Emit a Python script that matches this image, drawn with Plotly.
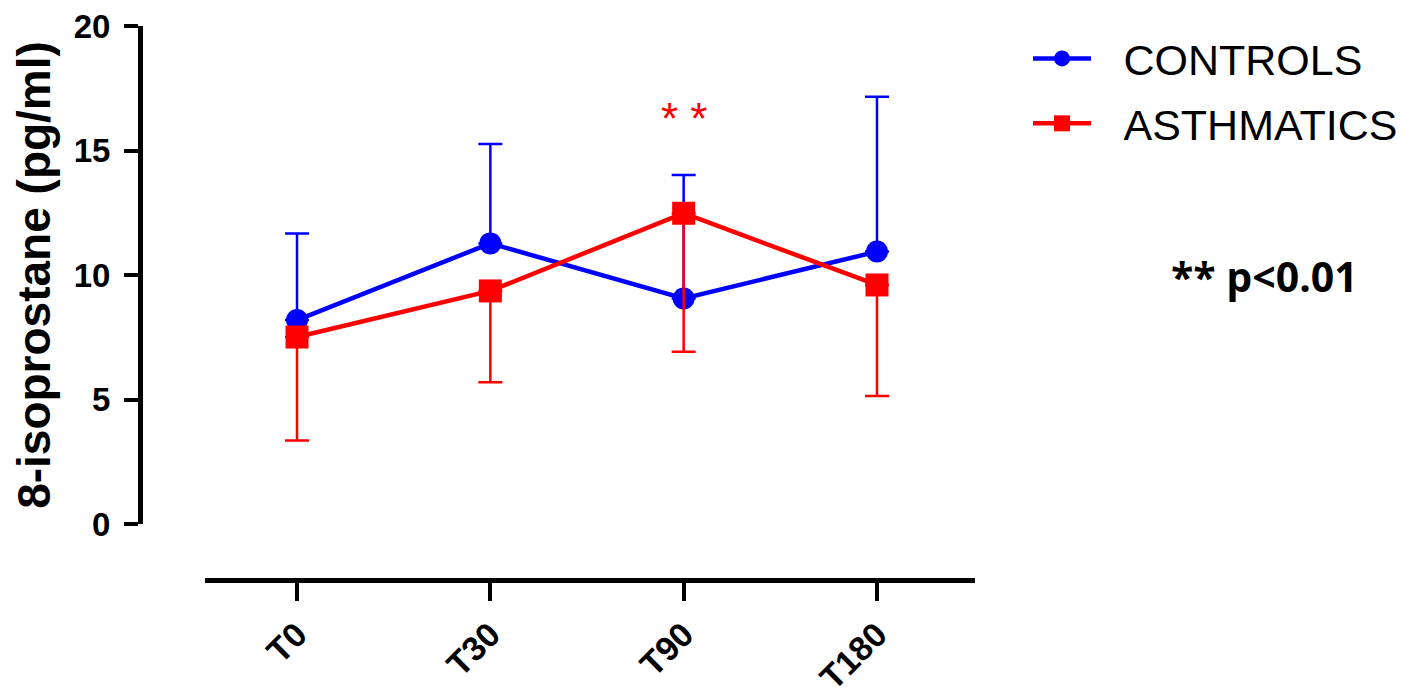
import plotly.graph_objects as go

categories = ["T0", "T30", "T90", "T180"]
controls_mean = [8.19, 11.27, 9.06, 10.94]
controls_sd_up = [3.48, 3.99, 4.96, 6.22]
asthma_mean = [7.51, 9.36, 12.48, 9.60]
asthma_sd_down = [4.16, 3.67, 5.56, 4.46]
y_ticks = [0, 5, 10, 15, 20]

W, H = 1414, 698
OFF = 8  # page body margin
# target page coordinates
Y_LEFT, X_RIGHT, Y_TOP, X_BOTTOM, Y_ZERO, X_LEFT = 140, 975, 26, 580, 524, 205
ml, mt = Y_LEFT - OFF, Y_TOP - OFF
mr = W - (X_RIGHT - OFF)
mb = H - (X_BOTTOM - OFF)
pw = W - ml - mr
ph = H - mt - mb


def px_x(page_x):
    return (page_x - OFF - ml) / pw


def px_y(page_y):
    return (H - mb - (page_y - OFF)) / ph


ARIAL = "Arial, Liberation Sans, sans-serif"
GAP = "\u00a0\u00a0\u200a"

fig = go.Figure()
fig.add_trace(go.Scatter(
    x=categories, y=controls_mean, name=GAP + "CONTROLS", mode="lines+markers",
    legendgroup="c",
    line=dict(color="#0000FF", width=4.5),
    marker=dict(symbol="circle", size=22, color="#0000FF"),
    error_y=dict(type="data", array=controls_sd_up, arrayminus=[0] * 4, symmetric=False,
                 color="#0000FF", thickness=2.5, width=12),
))
fig.add_trace(go.Scatter(
    x=categories, y=asthma_mean, name=GAP + "ASTHMATICS", mode="lines+markers",
    legendgroup="a",
    line=dict(color="#FF0000", width=4.5),
    marker=dict(symbol="square", size=23, color="#FF0000"),
    error_y=dict(type="data", array=[0] * 4, arrayminus=asthma_sd_down, symmetric=False,
                 color="#FF0000", thickness=2.5, width=12),
))

fig.update_layout(
    width=W, height=H,
    margin=dict(l=ml, r=mr, t=mt, b=mb, autoexpand=False),
    plot_bgcolor="white", paper_bgcolor="white",
    showlegend=True,
    legend=dict(
        x=px_x(1028), y=px_y(24), xanchor="left", yanchor="top",
        font=dict(family=ARIAL, size=43, color="black"),
        bgcolor="rgba(0,0,0,0)", itemwidth=58, tracegroupgap=6, traceorder="grouped",
    ),
    xaxis=dict(
        type="category", range=[-0.476, 3.507],
        domain=[px_x(X_LEFT), 1], anchor="free", position=0,
        showline=True, linecolor="black", linewidth=5,
        ticks="outside", ticklen=18, tickwidth=4, tickcolor="black",
        tickangle=-45, showgrid=False, zeroline=False, ticklabeloverflow="allow",
        tickfont=dict(family=ARIAL, size=34, color="black", weight="bold"),
    ),
    yaxis=dict(
        range=[0, 20], tickvals=y_ticks,
        domain=[px_y(Y_ZERO), 1], anchor="free", position=0,
        showline=True, linecolor="black", linewidth=5,
        ticks="outside", ticklen=14, tickwidth=4, tickcolor="black",
        showgrid=False, zeroline=False, ticklabelstandoff=7, ticklabeloverflow="allow",
        tickfont=dict(family=ARIAL, size=33, color="black", weight="bold"),
        title=dict(text="8-isoprostane (pg/ml)", standoff=22,
                   font=dict(family=ARIAL, size=46, color="black", weight="bold")),
    ),
)

fig.add_annotation(
    x="T90", y=16.3, xref="x", yref="y", text="* *", showarrow=False,
    font=dict(family=ARIAL, size=44, color="#FF0000"),
)
fig.add_annotation(
    x=px_x(1264), y=px_y(276), xref="paper", yref="paper",
    xanchor="center", yanchor="middle",
    text="** p<0.01", showarrow=False,
    font=dict(family="Open Sans, sans-serif", size=41, color="black", weight="bold"),
)

fig.write_html("out.html")
